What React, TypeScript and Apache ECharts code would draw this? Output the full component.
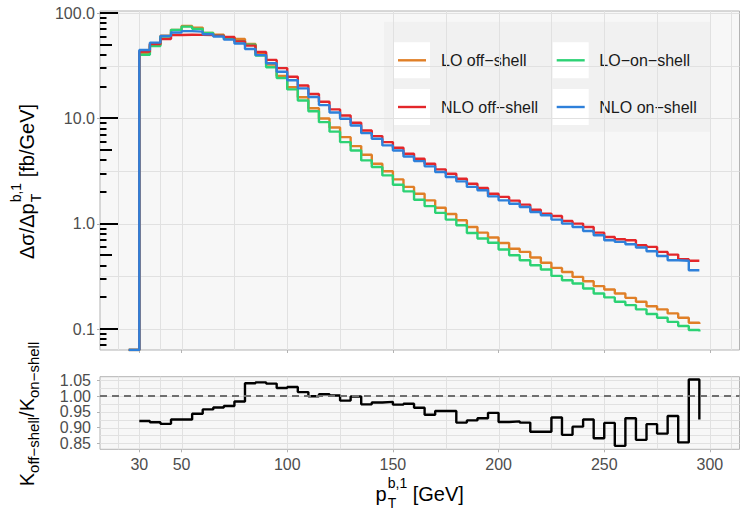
import { useEffect, useRef } from 'react';
import * as echarts from 'echarts';

const FONT = '"Liberation Sans", Arial, Helvetica, sans-serif';

// Lower bin edges in GeV; each step holds its value up to the next edge.
const ptEdges = [
  25, 30, 35, 40, 45, 50, 55, 60, 65, 70, 75, 80, 85, 90, 95, 100, 105, 110, 115, 120,
  125, 130, 135, 140, 145, 150, 155, 160, 165, 170, 175, 180, 185, 190, 195, 200, 205,
  210, 215, 220, 225, 230, 235, 240, 245, 250, 255, 260, 265, 270, 275, 280, 285, 290, 295,
];

// dσ/dp_T [fb/GeV]; the 25 GeV entry sits at the lower edge of the plotted range
const loOffShell = [
  0.0633, 41.9, 50.1, 61.0, 69.5, 75.5, 73.0, 65.0, 62.5, 59.0, 56.9, 51.0, 41.3, 32.6, 25.3,
  19.8, 15.9, 12.5, 10.0, 8.2, 6.65, 5.47, 4.52, 3.72, 3.15, 2.64, 2.24, 1.93, 1.67, 1.42,
  1.24, 1.08, 0.933, 0.824, 0.74, 0.658, 0.58, 0.541, 0.478, 0.426, 0.381, 0.349, 0.313,
  0.285, 0.256, 0.238, 0.218, 0.198, 0.182, 0.165, 0.154, 0.141, 0.128, 0.115, 0.112,
];
const loOnShell = [
  0.0633, 40.3, 48.8, 59.9, 69.5, 74.5, 71.0, 64.9, 61.2, 57.5, 54.1, 50.3, 39.5, 30.7, 24.2,
  18.9, 14.8, 11.7, 9.23, 7.5, 5.97, 4.97, 4.0, 3.46, 2.88, 2.35, 2.03, 1.69, 1.47, 1.27,
  1.096, 0.968, 0.818, 0.725, 0.66, 0.57, 0.503, 0.451, 0.404, 0.368, 0.32, 0.291, 0.271,
  0.243, 0.218, 0.2, 0.182, 0.169, 0.154, 0.139, 0.128, 0.117, 0.107, 0.098, 0.095,
];
const nloOffShell = [
  0.0633, 43.2, 51.0, 56.9, 62.0, 62.5, 62.3, 62.0, 61.0, 59.5, 54.0, 49.2, 42.8, 36.0, 30.1,
  24.9, 20.6, 17.1, 14.4, 12.2, 10.67, 9.1, 7.69, 6.8, 5.97, 5.27, 4.62, 4.15, 3.72, 3.29,
  2.99, 2.68, 2.4, 2.19, 1.93, 1.8, 1.66, 1.52, 1.36, 1.25, 1.186, 1.064, 1.004, 0.933,
  0.824, 0.75, 0.713, 0.698, 0.625, 0.603, 0.541, 0.51, 0.461, 0.445, 0.44,
];
const nloOnShell = [
  0.0633, 44.7, 52.5, 60.8, 65.5, 67.5, 66.8, 63.0, 60.0, 56.1, 51.5, 45.7, 40.0, 33.5, 27.8,
  23.1, 19.3, 16.0, 13.4, 11.4, 9.93, 8.58, 7.26, 6.42, 5.55, 4.97, 4.36, 3.94, 3.51, 3.1,
  2.78, 2.53, 2.24, 2.08, 1.82, 1.67, 1.55, 1.445, 1.294, 1.205, 1.096, 1.004, 0.933,
  0.855, 0.778, 0.698, 0.673, 0.64, 0.595, 0.548, 0.495, 0.45, 0.445, 0.362, 0.36,
];

// K-factor ratio, defined from 30 GeV on
const ratioEdges = [
  30, 35, 40, 45, 50, 55, 60, 65, 70, 75, 80, 85, 90, 95, 100, 105, 110, 115, 120, 125,
  130, 135, 140, 145, 150, 155, 160, 165, 170, 175, 180, 185, 190, 195, 200, 205, 210,
  215, 220, 225, 230, 235, 240, 245, 250, 255, 260, 265, 270, 275, 280, 285, 290, 295,
];
const kRatio = [
  0.921, 0.917, 0.912, 0.926, 0.926, 0.944, 0.958, 0.964, 0.969, 0.983, 1.041, 1.044, 1.04,
  1.026, 1.029, 1.013, 1.0, 1.006, 1.002, 0.986, 0.999, 0.974, 0.98, 0.982, 0.973, 0.976,
  0.963, 0.941, 0.953, 0.953, 0.916, 0.923, 0.93, 0.947, 0.918, 0.92, 0.916, 0.887, 0.887,
  0.932, 0.877, 0.903, 0.926, 0.866, 0.915, 0.842, 0.93, 0.861, 0.911, 0.881, 0.937, 0.853,
  1.053, 0.926,
];

const xTicks = [30, 50, 100, 150, 200, 250, 300];
const xMinorGrid = [20, 40, 75, 125, 175, 225, 275, 310];
const yTicks = [0.1, 1, 10, 100];
const yMinorGrid = [0.3162, 3.162, 31.62];
const rTicks = [0.85, 0.9, 0.95, 1.0, 1.05];
// the ratio labels sit close together, so they are split over two stacked axes
const rLabelsA = [0.85, 0.95, 1.05];
const rLabelsB = [0.9, 1.0];
const rMinorGrid = [0.875, 0.925, 0.975, 1.025];

const X_MIN = 11.4;
const X_MAX = 314.0;
const Y_MIN = 0.0633;
const Y_MAX = 104.9;
const R_MIN = 0.831;
const R_MAX = 1.062;

const C_LO_OFF = '#E07F27';
const C_LO_ON = '#2CD274';
const C_NLO_OFF = '#E3262A';
const C_NLO_ON = '#2E80DA';
const GRID_LINE = '#e1e1e1';
const TICK_GREY = '#b3b3b3';
const LABEL_GREY = '#4d4d4d';
const CURVE_WIDTH = 2.4;

let measureCtx: CanvasRenderingContext2D | null = null;
function textWidth(text: string, size: number): number {
  if (!measureCtx) measureCtx = document.createElement('canvas').getContext('2d');
  if (!measureCtx) return text.length * size * 0.55;
  measureCtx.font = `${size}px ${FONT}`;
  return measureCtx.measureText(text).width;
}

// text piece whose alphabetic baseline sits at local y = baseline
function piece(text: string, x: number, baseline: number, size: number) {
  return {
    type: 'text',
    x,
    y: baseline - 0.3465 * size,
    style: {
      text,
      fontSize: size,
      fontFamily: FONT,
      fill: '#000000',
      align: 'left',
      verticalAlign: 'middle',
    },
  };
}

// p_T^{b,1}-style label: main text, stacked sup/sub, trailing text; centered on x = 0
function stackedLabel(head: string, sup: string, sub: string, tail: string) {
  const M = 20;
  const S = 14;
  const wHead = textWidth(head, M);
  const wStack = Math.max(textWidth(sup, S), textWidth(sub, S));
  const wTail = textWidth(tail, M);
  const total = wHead + 1 + wStack + wTail;
  const x0 = -total / 2;
  return [
    piece(head, x0, 0, M),
    piece(sup, x0 + wHead + 1, -13, S),
    piece(sub, x0 + wHead + 1, 7, S),
    piece(tail, x0 + wHead + 1 + wStack, 0, M),
  ];
}

function kRatioLabel() {
  const M = 20;
  const S = 15;
  const parts: [string, number, number][] = [
    ['K', M, 0],
    ['off−shell', S, 5],
    ['/', M, 0],
    ['K', M, 0],
    ['on−shell', S, 5],
  ];
  const total = parts.reduce((s, [t, sz]) => s + textWidth(t, sz), 0);
  let x = -total / 2;
  return parts.map(([t, sz, dy]) => {
    const el = piece(t, x, dy, sz);
    x += textWidth(t, sz);
    return el;
  });
}

function hLines(name: string, xi: number, yi: number, values: number[], xRef: number) {
  return {
    type: 'custom',
    name,
    xAxisIndex: xi,
    yAxisIndex: yi,
    silent: true,
    z: 1,
    encode: { x: 0, y: 1 },
    data: values.map((v) => [xRef, v]),
    renderItem: (params: any, api: any) => {
      const cs = params.coordSys;
      const p = api.coord([api.value(0), api.value(1)]);
      const y = Math.round(p[1]) + 0.5;
      return {
        type: 'line',
        shape: { x1: cs.x, y1: y, x2: cs.x + cs.width, y2: y },
        style: { stroke: GRID_LINE, lineWidth: 1 },
      };
    },
  };
}

function vLines(name: string, xi: number, yi: number, values: number[], yRef: number) {
  return {
    type: 'custom',
    name,
    xAxisIndex: xi,
    yAxisIndex: yi,
    silent: true,
    z: 1,
    encode: { x: 0, y: 1 },
    data: values.map((v) => [v, yRef]),
    renderItem: (params: any, api: any) => {
      const cs = params.coordSys;
      const p = api.coord([api.value(0), api.value(1)]);
      const x = Math.round(p[0]) + 0.5;
      return {
        type: 'line',
        shape: { x1: x, y1: cs.y, x2: x, y2: cs.y + cs.height },
        style: { stroke: GRID_LINE, lineWidth: 1 },
      };
    },
  };
}

// log-tick marks along the left edge: 1x, 5x and the other multiples of each decade
function logTickData() {
  const out: number[][] = [];
  for (let e = -2; e <= 2; e++) {
    for (let m = 1; m <= 9; m++) {
      const v = m * Math.pow(10, e);
      if (v < Y_MIN || v > Y_MAX) continue;
      out.push([X_MIN, v, m === 1 ? 18 : m === 5 ? 12 : 6.5]);
    }
  }
  return out;
}

function stepSeries(name: string, values: number[], color: string) {
  return {
    type: 'line',
    name,
    xAxisIndex: 0,
    yAxisIndex: 0,
    step: 'end',
    symbol: 'none',
    silent: true,
    z: 3,
    lineStyle: { color, width: CURVE_WIDTH },
    data: ptEdges.map((x, i) => [x, values[i]]),
  };
}

function legendGraphic() {
  const items = [
    { label: 'LO off−shell', color: C_LO_OFF, col: 0, row: 0 },
    { label: 'LO−on−shell', color: C_LO_ON, col: 1, row: 0 },
    { label: 'NLO off−shell', color: C_NLO_OFF, col: 0, row: 1 },
    { label: 'NLO on−shell', color: C_NLO_ON, col: 1, row: 1 },
  ];
  const keyX = [394, 552.7];
  const keyY = [42.3, 89];
  const textX = [441, 599.3];
  const K = 36;
  const els: any[] = [
    { type: 'rect', shape: { x: 384, y: 21.7, width: 326, height: 110 }, style: { fill: '#f1f1f1' } },
  ];
  items.forEach((it) => {
    const kx = keyX[it.col];
    const ky = keyY[it.row];
    els.push({ type: 'rect', shape: { x: kx, y: ky, width: K, height: K }, style: { fill: '#ffffff' } });
    els.push({
      type: 'line',
      shape: { x1: kx + 4, y1: ky + K / 2, x2: kx + K - 4, y2: ky + K / 2 },
      style: { stroke: it.color, lineWidth: CURVE_WIDTH },
    });
    els.push({
      type: 'text',
      x: textX[it.col],
      y: ky + K / 2,
      style: { text: it.label, fontSize: 16, fontFamily: FONT, fill: '#1a1a1a', align: 'left', verticalAlign: 'middle' },
    });
  });
  return { type: 'group', z: 10, children: els };
}

function ratioLabelAxis(values: number[], withTicks: boolean) {
  return {
    type: 'value',
    gridIndex: 1,
    position: 'left',
    offset: 0,
    min: R_MIN,
    max: R_MAX,
    axisLine: { show: false },
    axisTick: withTicks
      ? { show: true, length: 3, customValues: rTicks, lineStyle: { color: TICK_GREY, width: 1 } }
      : { show: false },
    axisLabel: {
      show: true,
      interval: 0,
      showMinLabel: true,
      showMaxLabel: true,
      customValues: values,
      formatter: (v: number) => Number(v).toFixed(2),
      fontSize: 16,
      color: LABEL_GREY,
      margin: 9,
      fontFamily: FONT,
    },
    splitLine: { show: false },
  };
}

function buildOption() {
  const axisTick = { show: true, length: 3, lineStyle: { color: TICK_GREY, width: 1 } };
  const gridBox = {
    show: true,
    backgroundColor: '#f7f7f7',
    borderColor: '#b3b3b3',
    borderWidth: 1,
    left: 100,
    width: 639.5,
  };
  return {
    animation: false,
    backgroundColor: '#ffffff',
    textStyle: { fontFamily: FONT },
    grid: [
      { ...gridBox, top: 11, height: 339 },
      { ...gridBox, top: 376.7, height: 72.6 },
    ],
    xAxis: [
      {
        type: 'value',
        gridIndex: 0,
        min: X_MIN,
        max: X_MAX,
        axisLine: { show: false },
        axisTick: { ...axisTick, customValues: xTicks },
        axisLabel: { show: false },
        splitLine: { show: false },
      },
      {
        type: 'value',
        gridIndex: 1,
        min: X_MIN,
        max: X_MAX,
        axisLine: { show: false },
        axisTick: { ...axisTick, customValues: xTicks },
        axisLabel: {
          show: true,
          interval: 0,
          customValues: xTicks,
          fontSize: 16,
          color: LABEL_GREY,
          margin: 7,
          fontFamily: FONT,
        },
        splitLine: { show: false },
      },
    ],
    yAxis: [
      {
        type: 'log',
        logBase: 10,
        gridIndex: 0,
        min: Y_MIN,
        max: Y_MAX,
        axisLine: { show: false },
        axisTick: { ...axisTick, customValues: yTicks },
        axisLabel: {
          show: true,
          interval: 0,
          showMinLabel: true,
          showMaxLabel: true,
          customValues: yTicks,
          formatter: (v: number) => Number(v).toFixed(1),
          fontSize: 16,
          color: LABEL_GREY,
          margin: 5,
          fontFamily: FONT,
        },
        splitLine: { show: false },
      },
      ratioLabelAxis(rLabelsA, true),
      ratioLabelAxis(rLabelsB, false),
    ],
    series: [
      vLines('x grid', 0, 0, [...xTicks, ...xMinorGrid], 1),
      hLines('y grid', 0, 0, [...yTicks, ...yMinorGrid], X_MIN + 1),
      vLines('x grid ratio', 1, 1, [...xTicks, ...xMinorGrid], 1),
      hLines('y grid ratio', 1, 1, [...rTicks, ...rMinorGrid], X_MIN + 1),
      stepSeries('LO off−shell', loOffShell, C_LO_OFF),
      stepSeries('LO−on−shell', loOnShell, C_LO_ON),
      stepSeries('NLO off−shell', nloOffShell, C_NLO_OFF),
      stepSeries('NLO on−shell', nloOnShell, C_NLO_ON),
      {
        type: 'custom',
        name: 'log ticks',
        xAxisIndex: 0,
        yAxisIndex: 0,
        silent: true,
        z: 4,
        encode: { x: 0, y: 1 },
        data: logTickData(),
        renderItem: (params: any, api: any) => {
          const cs = params.coordSys;
          const p = api.coord([api.value(0), api.value(1)]);
          const y = Math.round(p[1]);
          return {
            type: 'line',
            shape: { x1: cs.x, y1: y, x2: cs.x + api.value(2), y2: y },
            style: { stroke: '#000000', lineWidth: 2 },
          };
        },
      },
      {
        type: 'line',
        name: 'K ratio',
        xAxisIndex: 1,
        yAxisIndex: 1,
        step: 'end',
        symbol: 'none',
        silent: true,
        z: 3,
        lineStyle: { color: '#000000', width: CURVE_WIDTH },
        data: ratioEdges.map((x, i) => [x, kRatio[i]]),
        markLine: {
          silent: true,
          symbol: ['none', 'none'],
          label: { show: false },
          lineStyle: { color: '#6f6f6f', width: 2.2, type: [7, 5] },
          data: [{ yAxis: 1 }],
        },
      },
    ],
    graphic: {
      elements: [
        legendGraphic(),
        { type: 'group', x: 419.75, y: 501, children: stackedLabel('p', 'b,1', 'T', ' [GeV]') },
        {
          type: 'group',
          x: 33.5,
          y: 181.5,
          rotation: Math.PI / 2,
          children: stackedLabel('Δσ/Δp', 'b,1', 'T', ' [fb/GeV]'),
        },
        { type: 'group', x: 33.5, y: 414, rotation: Math.PI / 2, children: kRatioLabel() },
      ],
    },
  };
}

export default function App() {
  const ref = useRef<HTMLDivElement>(null);
  useEffect(() => {
    if (!ref.current) return;
    const chart = echarts.init(ref.current, undefined, { renderer: 'svg' });
    chart.setOption(buildOption() as any);
    return () => chart.dispose();
  }, []);
  return (
    <div
      ref={ref}
      style={{ position: 'absolute', left: 0, top: 0, width: 750, height: 525, background: '#ffffff' }}
    />
  );
}
